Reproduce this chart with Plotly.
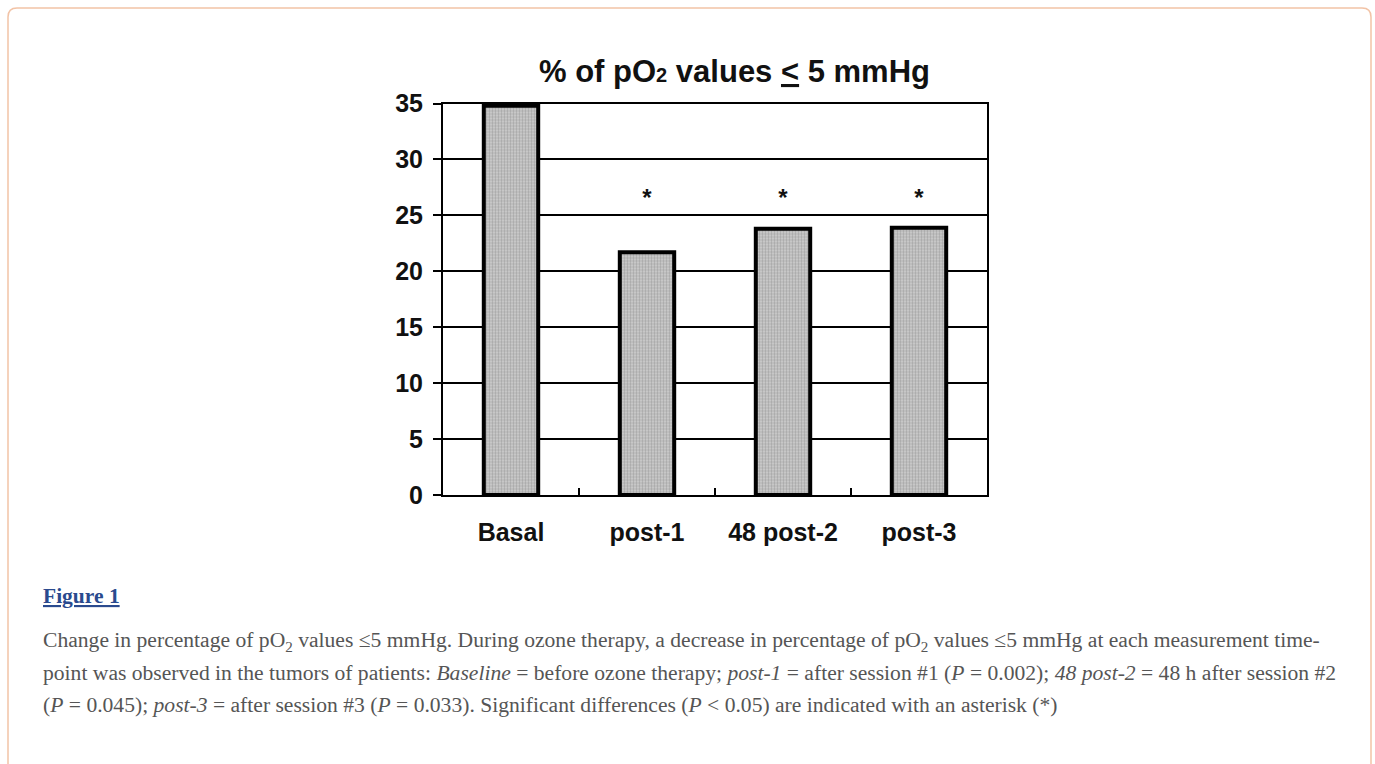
import plotly.graph_objects as go

# ---- data ----
categories = ["Basal", "post-1", "48 post-2", "post-3"]
pct_le5 = [34.8, 21.7, 23.8, 23.9]
significant = [False, True, True, True]
y_ticks = [0, 5, 10, 15, 20, 25, 30, 35]

title_text = ("% of pO<span style='font-size:20px'>2</span> values "
              "<span style='text-decoration:underline'>&lt;</span> 5 mmHg")
caption_lines = [
    "Change in percentage of pO<sub>2</sub> values ≤5 mmHg. During ozone therapy, a decrease in percentage of pO<sub>2</sub> values ≤5 mmHg at each measurement time-",
    "point was observed in the tumors of patients: <i>Baseline</i> = before ozone therapy; <i>post-1</i> = after session #1 (<i>P</i> = 0.002); <i>48 post-2</i> = 48 h after session #2",
    "(<i>P</i> = 0.045); <i>post-3</i> = after session #3 (<i>P</i> = 0.033). Significant differences (<i>P</i> &lt; 0.05) are indicated with an asterisk (*)",
]
ASTERISK_Y = 26.35

W, H = 1375, 764
def fx(px):
    return px / W
def fy(py):
    return 1 - py / H

SANS = "Arial, 'Liberation Sans', sans-serif"
SERIF = "'Times New Roman', 'Liberation Serif', serif"

fig = go.Figure()
fig.add_trace(go.Bar(
    x=categories, y=pct_le5, width=0.4,
    marker=dict(
        color="#c8c8c8",
        line=dict(color="#000000", width=4),
        pattern=dict(shape=".", fgcolor="#777777", bgcolor="#d2d2d2", size=3, solidity=0.5),
    ),
    hoverinfo="x+y", showlegend=False,
))
ast_x = [c for c, s in zip(categories, significant) if s]
fig.add_trace(go.Scatter(
    x=ast_x, y=[ASTERISK_Y] * len(ast_x), mode="text", text=["<b>*</b>"] * len(ast_x),
    textfont=dict(family=SANS, size=24, color="#111"), showlegend=False, hoverinfo="skip",
))

fig.update_layout(
    width=W, height=H, margin=dict(l=0, r=0, t=0, b=0, autoexpand=False),
    paper_bgcolor="white", plot_bgcolor="white",
    xaxis=dict(
        domain=[fx(443), fx(987)], range=[-0.5, 3.5], type="category", automargin=False,
        showline=True, mirror=True, linecolor="#000", linewidth=2,
        ticks="inside", tickson="boundaries", ticklen=7, tickwidth=2, tickcolor="#000",
        showgrid=False,
        tickfont=dict(family=SANS, size=25, color="#111", weight="bold"), ticklabelstandoff=14,
    ),
    yaxis=dict(
        domain=[fy(495), fy(103.5)], range=[0, 35], automargin=False,
        tickvals=y_ticks, ticktext=[str(v) for v in y_ticks],
        showline=True, mirror=True, linecolor="#000", linewidth=2,
        ticks="outside", ticklen=8, tickwidth=2, tickcolor="#000",
        showgrid=True, gridcolor="#000", gridwidth=2, zeroline=False,
        tickfont=dict(family=SANS, size=25, color="#111", weight="bold"), ticklabelstandoff=5,
    ),
    font=dict(family=SANS),
)

annotations = [
    dict(text="<b>" + title_text + "</b>", x=fx(734), y=fy(72), xref="paper", yref="paper",
         xanchor="center", yanchor="middle", showarrow=False,
         font=dict(family=SANS, size=31, color="#111")),
    dict(text="<b><span style='text-decoration:underline'>Figure 1</span></b>", x=fx(41), y=fy(596),
         xref="paper", yref="paper", xanchor="left", yanchor="middle", showarrow=False,
         font=dict(family=SERIF, size=21.5, color="#2a4a8e")),
]
for i, line in enumerate(caption_lines):
    annotations.append(dict(text=line, x=fx(41), y=fy(641 + 32 * i), xref="paper", yref="paper",
                            xanchor="left", yanchor="middle", showarrow=False,
                            font=dict(family=SERIF, size=21.6, color="#555")))
fig.update_layout(annotations=annotations)

# card border (open at bottom)
r = 9
x0, x1, yt, yb = 8, 1371, 8, 780
path = (f"M {fx(x0)},{fy(yb)} L {fx(x0)},{fy(yt + r)} Q {fx(x0)},{fy(yt)} {fx(x0 + r)},{fy(yt)} "
        f"L {fx(x1 - r)},{fy(yt)} Q {fx(x1)},{fy(yt)} {fx(x1)},{fy(yt + r)} L {fx(x1)},{fy(yb)}")
fig.add_shape(type="path", path=path, xref="paper", yref="paper",
              line=dict(color="#f2c3a6", width=1.5), layer="below")

fig.write_html("out.html", config={"displayModeBar": False},
               post_script="document.body.style.margin='0';document.body.style.overflow='hidden';")
